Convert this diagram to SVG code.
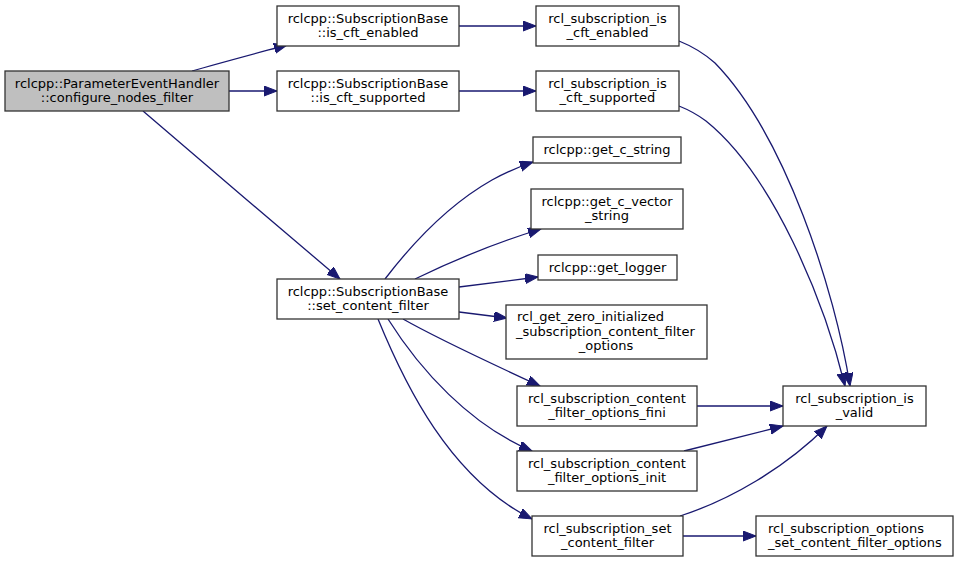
<svg xmlns="http://www.w3.org/2000/svg" width="959" height="563" viewBox="0 0 959 563">
<style>
.n rect{fill:#ffffff;stroke:#333333;stroke-width:1.3}
.n.hl rect{fill:#bfbfbf}
.n text{font-family:"DejaVu Sans",sans-serif;font-size:13px;text-anchor:middle;fill:#000}
.n text.l{text-anchor:start}
.e path{fill:none;stroke:#191970;stroke-width:1.3;marker-end:url(#arr)}
</style>
<defs>
<marker id="arr" markerWidth="14" markerHeight="11" refX="13" refY="5" orient="auto" markerUnits="userSpaceOnUse">
<path d="M0,0 L13,5 L0,10 z" fill="#191970" stroke="#191970" stroke-width="1"/>
</marker>
</defs>
<rect width="959" height="563" fill="#ffffff"/>
<g id="edges" class="e">
<path d="M192,71 C220,63 250,55 287,45"/>
<path d="M229,91 L277,91"/>
<path d="M143,111 C200,160 280,228 340,279"/>
<path d="M459,26 L536,26"/>
<path d="M459,91 L536,91"/>
<path d="M679,41 C694,47 706,55 715,63 C785,135 835,290 850,386"/>
<path d="M679,106 C689,110 698,115 706,121 C773,175 824,300 845,386"/>
<path d="M385,279 C408,249 446,206 492,180 C505,173 518,167 533,162"/>
<path d="M415,279 C450,262 495,243 541,229"/>
<path d="M459,287 L538,277"/>
<path d="M459,312 L507,318"/>
<path d="M403,319 C440,340 490,363 540,386"/>
<path d="M388,319 C420,370 470,425 532,451"/>
<path d="M378,319 C405,385 450,478 532,519"/>
<path d="M697,406 L783,406"/>
<path d="M684,451 L783,426"/>
<path d="M680,516 C730,500 785,468 827,426"/>
<path d="M683,536 L756,536"/>
</g>
<g id="configure_nodes_filter" class="n hl"><rect x="5" y="71" width="224" height="40"/><text x="117" y="87.5">rclcpp::ParameterEventHandler</text><text x="117" y="102">::configure_nodes_filter</text></g>
<g id="is_cft_enabled" class="n"><rect x="277" y="6" width="182" height="40"/><text x="368" y="22.5">rclcpp::SubscriptionBase</text><text x="368" y="37">::is_cft_enabled</text></g>
<g id="is_cft_supported" class="n"><rect x="277" y="71" width="182" height="40"/><text x="368" y="87.5">rclcpp::SubscriptionBase</text><text x="368" y="102">::is_cft_supported</text></g>
<g id="set_content_filter" class="n"><rect x="277" y="279" width="182" height="40"/><text x="368" y="295.5">rclcpp::SubscriptionBase</text><text x="368" y="310">::set_content_filter</text></g>
<g id="rcl_is_cft_enabled" class="n"><rect x="536" y="6" width="143" height="40"/><text x="607.5" y="22.5">rcl_subscription_is</text><text x="607.5" y="37">_cft_enabled</text></g>
<g id="rcl_is_cft_supported" class="n"><rect x="536" y="71" width="143" height="40"/><text x="607.5" y="87.5">rcl_subscription_is</text><text x="607.5" y="102">_cft_supported</text></g>
<g id="get_c_string" class="n"><rect x="533" y="137" width="148" height="26"/><text x="607" y="154">rclcpp::get_c_string</text></g>
<g id="get_c_vector_string" class="n"><rect x="531" y="189" width="152" height="40"/><text x="607" y="205.5">rclcpp::get_c_vector</text><text x="607" y="220">_string</text></g>
<g id="get_logger" class="n"><rect x="538" y="255" width="139" height="25"/><text x="607.5" y="271.5">rclcpp::get_logger</text></g>
<g id="zero_initialized" class="n"><rect x="506" y="305" width="201" height="54"/><text class="l" x="517" y="321">rcl_get_zero_initialized</text><text class="l" x="516" y="335.5">_subscription_content_filter</text><text x="606" y="350">_options</text></g>
<g id="options_fini" class="n"><rect x="517" y="386" width="180" height="40"/><text x="607" y="402.5">rcl_subscription_content</text><text x="607" y="417">_filter_options_fini</text></g>
<g id="options_init" class="n"><rect x="517" y="451" width="180" height="40"/><text x="607" y="467.5">rcl_subscription_content</text><text x="607" y="482">_filter_options_init</text></g>
<g id="rcl_set_content_filter" class="n"><rect x="532" y="516" width="151" height="40"/><text x="607.5" y="532.5">rcl_subscription_set</text><text x="607.5" y="547">_content_filter</text></g>
<g id="is_valid" class="n"><rect x="783" y="386" width="143" height="40"/><text x="854.5" y="402.5">rcl_subscription_is</text><text x="854.5" y="417">_valid</text></g>
<g id="options_set_cf_options" class="n"><rect x="756" y="516" width="197" height="40"/><text class="l" x="768" y="532.5">rcl_subscription_options</text><text class="l" x="768" y="547">_set_content_filter_options</text></g>
</svg>
